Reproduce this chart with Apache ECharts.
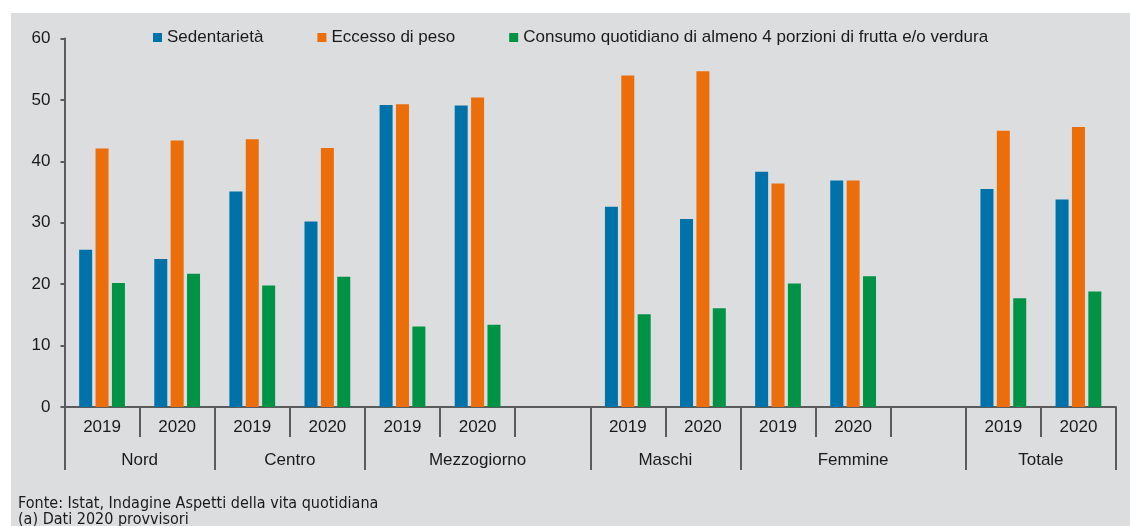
<!DOCTYPE html>
<html>
<head>
<meta charset="utf-8">
<script src="https://cdn.jsdelivr.net/npm/echarts@6/dist/echarts.min.js"></script>
<style>
html,body{margin:0;padding:0;background:#ffffff;}
#chart{width:1130px;height:526px;}
</style>
</head>
<body>
<div id="chart"></div>
<script>
// Category slots (blank slots separate the blocks)
const years = ['2019','2020','2019','2020','2019','2020','','2019','2020','2019','2020','','2019','2020'];
const groups = ['Nord','Centro','Mezzogiorno','Maschi','Femmine','Totale'];
const groupSpans = [2,2,3,2,3,2];
const seriesNames = ['Sedentarietà','Eccesso di peso','Consumo quotidiano di almeno 4 porzioni di frutta e/o verdura'];
const sedentarieta = [25.6,24.1,35.1,30.2,49.2,49.1,null,32.6,30.6,38.3,36.9,null,35.5,33.8];
const eccessoPeso  = [42.1,43.4,43.6,42.2,49.3,50.4,null,54.0,54.7,36.4,36.9,null,45.0,45.6];
const fruttaVerdura= [20.2,21.7,19.8,21.2,13.1,13.4,null,15.1,16.1,20.1,21.3,null,17.7,18.8];
const yTicks = [0,10,20,30,40,50,60];
const footnotes = ['Fonte: Istat, Indagine Aspetti della vita quotidiana','(a) Dati 2020 provvisori'];

// group boundaries and centres on a 0..N value scale
const bounds = [0];
groupSpans.forEach(s => bounds.push(bounds[bounds.length-1] + s));
const centers = groupSpans.map((s,i) => bounds[i] + s/2);

const FONT = 'Liberation Sans';
const NARROW = "16px 'Liberation Sans Narrow', 'DejaVu Sans Condensed', sans-serif";
const TXT = '#1a1a1a';
const AX = '#5b5b5b';
const colors = ['#0072aa','#eb6e0a','#009346'];

const chart = echarts.init(document.getElementById('chart'), null, {renderer:'canvas'});
const mkSeries = (name, data, i) => ({
  name, type:'bar', data, xAxisIndex:0, yAxisIndex:0,
  barWidth:13, barGap:'26%',
  itemStyle:{color:colors[i]}
});
chart.setOption({
  animation:false,
  textStyle:{fontFamily:FONT},
  graphic:{elements:[
    {type:'rect', z:-100, silent:true, shape:{x:11,y:13,width:1119,height:513}, style:{fill:'#dcdddf'}},
    {type:'text', z:10, left:18, top:496, style:{text:footnotes[0], font:NARROW, fill:TXT}},
    {type:'text', z:10, left:18, top:512, style:{text:footnotes[1], font:NARROW, fill:TXT}}
  ]},
  legend:{
    left:153, top:29, padding:0, icon:'rect', itemWidth:9, itemHeight:9, itemGap:54,
    textStyle:{fontSize:17, color:TXT, fontFamily:FONT},
    data:seriesNames
  },
  grid:{left:64.5, right:14, top:38.6, bottom:119, containLabel:false},
  xAxis:[
    {
      type:'category', data:years, position:'bottom',
      axisLine:{show:true, lineStyle:{color:AX, width:2}},
      axisTick:{show:true, interval:0, length:30, lineStyle:{color:AX, width:2}},
      axisLabel:{interval:0, fontSize:17, color:TXT, margin:12, fontFamily:FONT},
      splitLine:{show:false}
    },
    {
      type:'value', min:0, max:years.length, position:'bottom', offset:30,
      axisLine:{show:false},
      axisTick:{show:true, length:33, customValues:bounds, lineStyle:{color:AX, width:2}},
      axisLabel:{show:true, fontSize:17, color:TXT, margin:15, fontFamily:FONT, customValues:centers,
        formatter:function(v){ const i = centers.indexOf(v); return i>=0 ? groups[i] : ''; }},
      splitLine:{show:false}
    }
  ],
  yAxis:{
    type:'value', min:0, max:60, interval:10,
    axisLine:{show:true, lineStyle:{color:AX, width:2}},
    axisTick:{show:true, length:4, lineStyle:{color:AX, width:2}},
    axisLabel:{fontSize:17, color:TXT, margin:14, fontFamily:FONT,
      formatter:function(v){ return yTicks.indexOf(v)>=0 ? String(v) : ''; }},
    splitLine:{show:false}
  },
  series:[
    mkSeries(seriesNames[0], sedentarieta, 0),
    mkSeries(seriesNames[1], eccessoPeso, 1),
    mkSeries(seriesNames[2], fruttaVerdura, 2)
  ]
});
</script>
</body>
</html>
